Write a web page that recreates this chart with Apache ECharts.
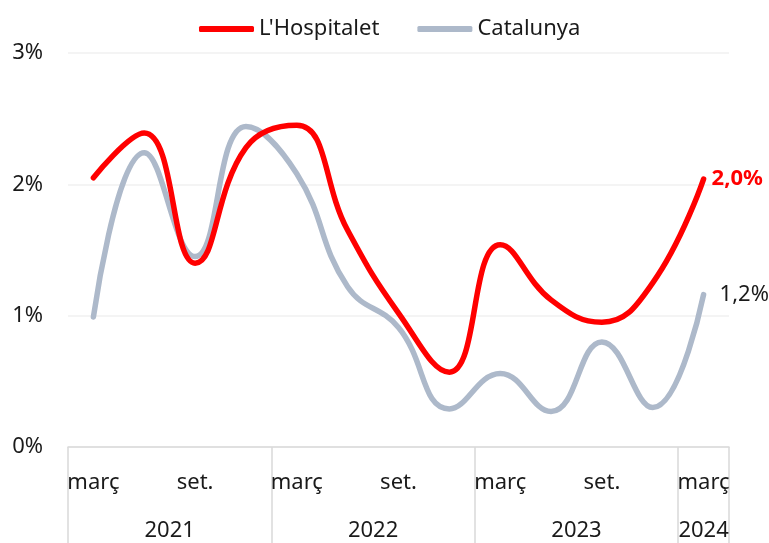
<!DOCTYPE html>
<html>
<head>
<meta charset="utf-8">
<script src="https://cdn.jsdelivr.net/npm/echarts@6/dist/echarts.min.js"></script>
<style>
  html, body { margin: 0; padding: 0; background: #fff; }
  #chart { width: 769px; height: 543px; }
</style>
</head>
<body>
<div id="chart"></div>
<script>
// trimestres (març 2021 - març 2024)
var months = ['març', 'juny', 'set.', 'des.', 'març', 'juny', 'set.', 'des.', 'març', 'juny', 'set.', 'des.', 'març'];
var years = ['2021', '2021', '2021', '2021', '2022', '2022', '2022', '2022', '2023', '2023', '2023', '2023', '2024'];
var hospitalet = [2.05, 2.39, 1.40, 2.28, 2.45, 1.65, 1.02, 0.57, 1.54, 1.12, 0.95, 1.25, 2.04];
var catalunya = [0.99, 2.24, 1.45, 2.44, 2.08, 1.22, 0.91, 0.29, 0.56, 0.27, 0.80, 0.30, 1.16];
var yTicks = [0, 1, 2, 3];

var FONT = 'Noto Sans';
var TXT = '#1a1a1a';
var FS = 22;

// grups d'anys per a l'eix inferior
var groupStarts = [];
var labelPos = {};
(function () {
  var start = 0;
  for (var i = 1; i <= years.length; i++) {
    if (i === years.length || years[i] !== years[start]) {
      groupStarts.push(start);
      labelPos[(start + (i - start) / 2).toFixed(2)] = years[start];
      start = i;
    }
  }
  groupStarts.push(years.length);
})();
var yearCenters = Object.keys(labelPos).map(Number);

function pct(v) {
  return v.toFixed(1).replace('.', ',') + '%';
}

var chart = echarts.init(document.getElementById('chart'));
chart.setOption({
  animation: false,
  textStyle: { fontFamily: FONT },
  legend: {
    data: ["L'Hospitalet", 'Catalunya'],
    left: 194,
    top: 13,
    itemWidth: 55,
    itemHeight: 6,
    itemGap: 38,
    icon: 'roundRect',
    textStyle: { fontSize: FS, color: TXT, fontFamily: FONT }
  },
  grid: { left: 68, right: 40, top: 53, bottom: 96, containLabel: false },
  xAxis: [
    {
      type: 'category',
      data: months,
      boundaryGap: true,
      axisLine: { show: false },
      axisTick: { show: false },
      axisLabel: {
        interval: 1,
        margin: 25,
        fontSize: FS,
        color: TXT,
        fontFamily: FONT
      }
    },
    {
      type: 'value',
      min: 0,
      max: months.length,
      position: 'bottom',
      splitLine: { show: false },
      axisLine: { show: true, lineStyle: { color: '#d9d9d9', width: 1.5 } },
      axisTick: {
        show: true,
        customValues: groupStarts,
        length: 100,
        lineStyle: { color: '#d9d9d9', width: 1.5 }
      },
      axisLabel: {
        customValues: yearCenters,
        margin: 73,
        fontSize: FS,
        color: TXT,
        fontFamily: FONT,
        formatter: function (v) { return labelPos[v.toFixed(2)] || ''; }
      }
    }
  ],
  yAxis: {
    type: 'value',
    min: yTicks[0],
    max: yTicks[yTicks.length - 1],
    interval: 1,
    axisLine: { show: false },
    axisTick: { show: false },
    splitLine: { lineStyle: { color: '#f0f0f0', width: 1.5 } },
    axisLabel: {
      margin: 25,
      fontSize: FS,
      color: TXT,
      fontFamily: FONT,
      formatter: '{value}%'
    }
  },
  series: [
    {
      name: "L'Hospitalet",
      type: 'line',
      xAxisIndex: 0,
      data: hospitalet,
      smooth: 0.45,
      symbol: 'none',
      color: '#ff0000',
      lineStyle: { width: 5.5, color: '#ff0000', cap: 'round' },
      endLabel: {
        show: true,
        distance: 8,
        formatter: function (p) { return pct(p.value); },
        color: '#ff0000',
        fontWeight: 'bold',
        fontSize: FS,
        fontFamily: FONT
      },
      z: 3
    },
    {
      name: 'Catalunya',
      type: 'line',
      xAxisIndex: 0,
      data: catalunya,
      smooth: 0.45,
      symbol: 'none',
      color: '#adb9ca',
      lineStyle: { width: 5.5, color: '#adb9ca', cap: 'round' },
      endLabel: {
        show: true,
        distance: 16,
        formatter: function (p) { return pct(p.value); },
        color: TXT,
        fontSize: FS,
        fontFamily: FONT
      },
      z: 2
    }
  ]
});
</script>
</body>
</html>
